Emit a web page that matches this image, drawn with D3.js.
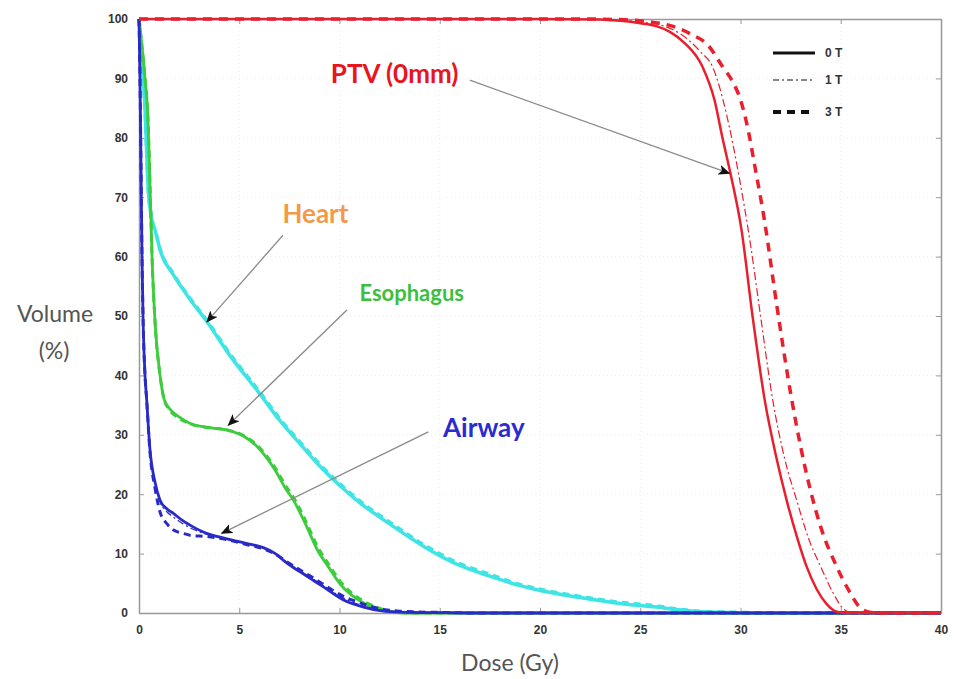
<!DOCTYPE html>
<html>
<head>
<meta charset="utf-8">
<script src="https://cdn.jsdelivr.net/npm/d3@7"></script>
<style>
	body { margin: 0; background: #fff; }
	svg { display: block; }
	.tick-label { font-family: "Liberation Sans", Arial, sans-serif; font-size: 12px; font-weight: bold; fill: #333; }
	.axis-title { font-family: Lato, "Open Sans", sans-serif; font-size: 23px; fill: #555; }
	.organ-label { font-family: Lato, "Open Sans", sans-serif; font-weight: bold; }
	.legend-label { font-family: "Liberation Sans", Arial, sans-serif; font-size: 12px; font-weight: bold; fill: #333; }
</style>
</head>
<body>
<svg id="dvh"></svg>
<script>
// Dose (Gy) / volume (%) pairs
const ptvDose0 = [ 0, 10, 20, 23, 24, 25, 25.8, 26.5, 27.2, 28.1, 28.7, 29.1, 29.5, 30.05, 30.6, 31.2, 31.8, 32.3, 32.8, 33.3, 33.8, 34.3, 34.8, 35.2, 40 ];
const ptvVol0 = [ 100, 100, 100, 99.9, 99.7, 99.3, 98.8, 97.8, 96, 92, 86.4, 80, 74, 64.5, 50, 36, 26, 19, 13, 7.8, 4, 1.5, 0.2, 0, 0 ];
const ptvDose1 = [ 0, 10, 22, 23.5, 25, 26, 27, 28, 28.6, 29.3, 29.9, 30.5, 31, 31.6, 32.2, 32.8, 33.4, 34, 34.6, 35.1, 35.5, 36, 40 ];
const ptvVol1 = [ 100, 100, 100, 99.9, 99.5, 99, 97.5, 94.5, 92, 84, 74, 62, 50, 36, 26, 19, 12.5, 7.8, 3.5, 0.8, 0.1, 0, 0 ];
const ptvDose3 = [ 0, 10, 22, 24, 25.5, 26.6, 27.5, 28.4, 29.1, 29.6, 30, 30.4, 30.7, 31.2, 31.8, 32.5, 33, 33.5, 34, 34.8, 35.4, 36, 36.5, 37, 40 ];
const ptvVol3 = [ 100, 100, 100, 99.9, 99.5, 98.8, 97.5, 95.5, 92, 89.5, 86.4, 81, 75.5, 66, 52, 37, 28, 20.5, 14.5, 7.8, 3.8, 0.8, 0.1, 0, 0 ];

const heartDose0 = [ 0, 0.1, 0.3, 0.45, 0.6, 0.8, 1.1, 1.7, 2.5, 3.4, 4.5, 6, 7, 8, 9, 10, 11, 12.5, 14.3, 16, 17.5, 19, 20, 22, 24, 25.8, 27, 28, 30, 33, 40 ];
const heartVol0 = [ 100, 95, 85, 72, 67, 64.5, 60.6, 57, 53, 49, 43.5, 37, 32.5, 28.6, 24.8, 21.5, 18.6, 15, 11, 8, 6.2, 4.6, 3.8, 2.6, 1.6, 1, 0.5, 0.2, 0.05, 0, 0 ];
const heartDose1 = [ 0, 0.1, 0.3, 0.45, 0.6, 0.8, 1.1, 1.7, 2.5, 3.4, 4.5, 6, 7, 8, 9, 10, 11, 12.5, 14.3, 16, 17.5, 19, 20, 22, 24, 25.8, 27, 28, 30, 33, 40 ];
const heartVol1 = [ 100, 95, 85, 72, 67, 64.5, 60.6, 57, 53, 49, 43.6, 37.1, 32.6, 28.7, 24.9, 21.6, 18.7, 15.1, 11.1, 8.1, 6.3, 4.7, 3.9, 2.7, 1.7, 1.1, 0.6, 0.25, 0.05, 0, 0 ];
const heartDose3 = [ 0, 0.1, 0.3, 0.45, 0.6, 0.8, 1.1, 1.7, 2.5, 3.4, 4.5, 6, 7, 8, 9, 10, 11, 12.5, 14.3, 16, 17.5, 19, 20, 22, 24, 25.8, 27, 28, 30, 33, 40 ];
const heartVol3 = [ 100, 95, 85, 72, 67, 64.5, 60.8, 57.2, 53.2, 49.2, 43.8, 37.3, 32.8, 28.9, 25.1, 21.8, 18.9, 15.3, 11.3, 8.3, 6.5, 4.8, 4, 2.8, 1.8, 1.2, 0.6, 0.3, 0.1, 0, 0 ];

const esoDose0 = [ 0, 0.1, 0.3, 0.45, 0.55, 0.65, 0.8, 1.05, 1.25, 1.5, 2, 2.5, 3.5, 4.4, 5.2, 5.9, 6.4, 6.8, 7.3, 7.7, 8.3, 8.9, 9.5, 10, 10.6, 11.2, 12, 12.5, 13.5, 40 ];
const esoVol0 = [ 100, 97, 90, 83, 72, 60, 49, 40, 36, 34.5, 33, 32, 31.2, 30.8, 29.8, 28, 26, 24, 21, 19, 15, 10.6, 7.5, 5, 3, 1.7, 0.6, 0.2, 0, 0 ];
const esoDose1 = [ 0, 0.1, 0.3, 0.45, 0.55, 0.65, 0.8, 1.05, 1.25, 1.5, 2, 2.5, 3.5, 4.4, 5.2, 5.9, 6.4, 6.8, 7.3, 7.7, 8.3, 8.9, 9.5, 10, 10.6, 11.2, 12, 12.5, 13.5, 40 ];
const esoVol1 = [ 100, 97, 90, 83, 72, 60, 49, 40, 36, 34.5, 33, 32, 31.3, 30.9, 29.9, 28.1, 26.1, 24.1, 21.1, 19.1, 15.2, 10.8, 7.7, 5.2, 3.2, 1.8, 0.7, 0.25, 0, 0 ];
const esoDose3 = [ 0, 0.1, 0.3, 0.45, 0.55, 0.65, 0.8, 1.05, 1.25, 1.5, 2, 2.5, 3.5, 4.4, 5.2, 5.9, 6.4, 6.8, 7.3, 7.7, 8.3, 8.9, 9.5, 10, 10.6, 11.2, 12, 12.5, 13.5, 40 ];
const esoVol3 = [ 100, 97, 90, 83, 72, 60, 49, 40, 36, 34.3, 32.8, 31.9, 31.2, 30.8, 29.9, 28.2, 26.3, 24.4, 21.5, 19.5, 15.6, 11.2, 8, 5.5, 3.4, 2, 0.8, 0.3, 0, 0 ];

const airDose0 = [ 0, 0.05, 0.1, 0.15, 0.2, 0.3, 0.38, 0.55, 0.8, 1.05, 1.4, 1.7, 2.2, 2.7, 3.3, 4, 5.4, 6.2, 6.8, 7.3, 8, 8.6, 9.2, 10.2, 11.2, 12.2, 13, 15, 17, 40 ];
const airVol0 = [ 100, 90, 75, 60, 50, 40, 36, 27.4, 22, 19, 17.5, 16.8, 15.5, 14.5, 13.5, 12.8, 11.7, 11, 10, 8.6, 7, 5.7, 4.4, 2.2, 1, 0.3, 0.15, 0.05, 0, 0 ];
const airDose1 = [ 0, 0.05, 0.1, 0.15, 0.2, 0.3, 0.38, 0.55, 0.8, 1.05, 1.4, 1.7, 2.2, 2.7, 3.3, 4, 5.4, 6.2, 6.8, 7.3, 8, 8.6, 9.2, 10.2, 11.2, 12.2, 13, 15, 17, 40 ];
const airVol1 = [ 100, 90, 75, 60, 50, 40, 36, 27.4, 22, 18.7, 17, 16.2, 15, 14.1, 13.3, 12.7, 11.6, 10.9, 10, 8.7, 7.2, 5.9, 4.6, 2.5, 1.2, 0.4, 0.2, 0.05, 0, 0 ];
const airDose3 = [ 0, 0.05, 0.1, 0.15, 0.2, 0.3, 0.38, 0.55, 0.8, 1.05, 1.4, 1.7, 2.2, 2.7, 3.3, 4, 5.4, 6.2, 6.8, 7.3, 8, 8.6, 9.2, 10.2, 11.2, 12.2, 13, 15, 17, 40 ];
const airVol3 = [ 100, 90, 75, 60, 50, 40, 36, 27, 21, 17, 15, 14, 13.4, 13, 12.9, 12.6, 11.5, 10.8, 9.9, 8.8, 7.3, 6.1, 4.8, 2.8, 1.5, 0.6, 0.3, 0.1, 0, 0 ];

const xTicks = [ 0, 5, 10, 15, 20, 25, 30, 35, 40 ];
const yTicks = [ 0, 10, 20, 30, 40, 50, 60, 70, 80, 90, 100 ];
const legendLabels = [ '0 T', '1 T', '3 T' ];

// Annotation text and arrow ends, in data units
const organNames = [ 'PTV (0mm)', 'Heart', 'Esophagus', 'Airway' ];
const organLabelColors = [ '#e8141e', '#f29a4a', '#3cbf3c', '#2b2bd0' ];
const organLabelSizes = [ 26, 26, 22, 26 ];
const labelDose = [ 12.75, 8.8, 13.6, 17.2 ];
const labelVol = [ 90.9, 67.3, 54.0, 31.3 ];
const arrowFromDose = [ 16.5, 7.18, 10.37, 14.43 ];
const arrowFromVol = [ 89.7, 63.6, 51.0, 30.5 ];
const arrowToDose = [ 29.45, 3.38, 4.45, 4.12 ];
const arrowToVol = [ 74, 49.0, 31.6, 13.4 ];

function pairs( doses, vols ) {
	return doses.map( ( d, i ) => [ d, vols[ i ] ] );
}

const margin = { top: 19, right: 16, bottom: 66, left: 139 };
const width = 957 - margin.left - margin.right;
const height = 679 - margin.top - margin.bottom;

const svg = d3.select( '#dvh' )
	.attr( 'width', 957 )
	.attr( 'height', 679 );

const g = svg.append( 'g' )
	.attr( 'transform', `translate(${ margin.left },${ margin.top })` );

const x = d3.scaleLinear().domain( [ 0, 40 ] ).range( [ 0, width ] );
const y = d3.scaleLinear().domain( [ 0, 100 ] ).range( [ height, 0 ] );

// Faint grid
g.append( 'g' )
	.selectAll( 'line' )
	.data( yTicks.slice( 1, -1 ) )
	.join( 'line' )
	.attr( 'x1', 0 )
	.attr( 'x2', width )
	.attr( 'y1', ( d ) => y( d ) )
	.attr( 'y2', ( d ) => y( d ) )
	.attr( 'stroke', '#ececec' )
	.attr( 'stroke-dasharray', '1,3' );
g.append( 'g' )
	.selectAll( 'line' )
	.data( xTicks.slice( 1, -1 ) )
	.join( 'line' )
	.attr( 'x1', ( d ) => x( d ) )
	.attr( 'x2', ( d ) => x( d ) )
	.attr( 'y1', 0 )
	.attr( 'y2', height )
	.attr( 'stroke', '#ececec' )
	.attr( 'stroke-dasharray', '1,3' );

// Axes, matlab style (ticks pointing in, on all four sides)
function styleAxis( sel ) {
	sel.selectAll( '.domain' ).attr( 'stroke', '#999' ).attr( 'stroke-width', 1.5 );
	sel.selectAll( '.tick line' ).attr( 'stroke', '#999' );
}

g.append( 'g' )
	.attr( 'transform', `translate(0,${ height })` )
	.call( d3.axisBottom( x ).tickValues( xTicks ).tickSizeInner( -5 ).tickSizeOuter( 0 ).tickPadding( 12 ) )
	.call( styleAxis )
	.selectAll( 'text' )
	.attr( 'class', 'tick-label' );

g.append( 'g' )
	.call( d3.axisLeft( y ).tickValues( yTicks ).tickSizeInner( -5 ).tickSizeOuter( 0 ).tickPadding( 11 ) )
	.call( styleAxis )
	.selectAll( 'text' )
	.attr( 'class', 'tick-label' );

g.append( 'g' )
	.call( d3.axisTop( x ).tickValues( xTicks ).tickSizeInner( -5 ).tickSizeOuter( 0 ).tickFormat( '' ) )
	.call( styleAxis );

g.append( 'g' )
	.attr( 'transform', `translate(${ width },0)` )
	.call( d3.axisRight( y ).tickValues( yTicks ).tickSizeInner( -5 ).tickSizeOuter( 0 ).tickFormat( '' ) )
	.call( styleAxis );

// Curves
const line = d3.line()
	.x( ( d ) => x( d[ 0 ] ) )
	.y( ( d ) => y( d[ 1 ] ) )
	.curve( d3.curveMonotoneX );

const curves = [
	{ pts: pairs( heartDose3, heartVol3 ), color: '#3fe4e4', w: 3.5, dash: '7,5' },
	{ pts: pairs( heartDose1, heartVol1 ), color: '#3fe4e4', w: 1.5, dash: '7,3,2,3' },
	{ pts: pairs( heartDose0, heartVol0 ), color: '#3fe4e4', w: 3.5, dash: null },
	{ pts: pairs( esoDose3, esoVol3 ), color: '#3ccc3c', w: 3, dash: '7,5' },
	{ pts: pairs( esoDose1, esoVol1 ), color: '#3ccc3c', w: 1.2, dash: '7,3,2,3' },
	{ pts: pairs( esoDose0, esoVol0 ), color: '#3ccc3c', w: 2.8, dash: null },
	{ pts: pairs( airDose3, airVol3 ), color: '#2a2ac8', w: 3, dash: '7,5' },
	{ pts: pairs( airDose1, airVol1 ), color: '#2a2ac8', w: 1.2, dash: '7,3,2,3' },
	{ pts: pairs( airDose0, airVol0 ), color: '#2a2ac8', w: 2.8, dash: null },
	{ pts: pairs( ptvDose0, ptvVol0 ), color: '#e8202e', w: 2.5, dash: null },
	{ pts: pairs( ptvDose1, ptvVol1 ), color: '#e8202e', w: 1.2, dash: '8,3,2,3' },
	{ pts: pairs( ptvDose3, ptvVol3 ), color: '#e8202e', w: 3.5, dash: '9,7' },
];

g.append( 'g' )
	.selectAll( 'path' )
	.data( curves )
	.join( 'path' )
	.attr( 'fill', 'none' )
	.attr( 'stroke', ( d ) => d.color )
	.attr( 'stroke-width', ( d ) => d.w )
	.attr( 'stroke-dasharray', ( d ) => d.dash )
	.attr( 'd', ( d ) => line( d.pts ) );

// Arrowhead
svg.append( 'defs' )
	.append( 'marker' )
	.attr( 'id', 'head' )
	.attr( 'viewBox', '0 0 12 10' )
	.attr( 'refX', 11 )
	.attr( 'refY', 5 )
	.attr( 'markerWidth', 12 )
	.attr( 'markerHeight', 10 )
	.attr( 'markerUnits', 'userSpaceOnUse' )
	.attr( 'orient', 'auto' )
	.append( 'path' )
	.attr( 'd', 'M0,0 L12,5 L0,10 L3,5 Z' )
	.attr( 'fill', '#111' );

g.append( 'g' )
	.selectAll( 'line' )
	.data( organNames )
	.join( 'line' )
	.attr( 'x1', ( d, i ) => x( arrowFromDose[ i ] ) )
	.attr( 'y1', ( d, i ) => y( arrowFromVol[ i ] ) )
	.attr( 'x2', ( d, i ) => x( arrowToDose[ i ] ) )
	.attr( 'y2', ( d, i ) => y( arrowToVol[ i ] ) )
	.attr( 'stroke', '#8a8a8a' )
	.attr( 'stroke-width', 1.3 )
	.attr( 'marker-end', 'url(#head)' );

g.append( 'g' )
	.selectAll( 'text' )
	.data( organNames )
	.join( 'text' )
	.attr( 'class', 'organ-label' )
	.attr( 'x', ( d, i ) => x( labelDose[ i ] ) )
	.attr( 'y', ( d, i ) => y( labelVol[ i ] ) )
	.attr( 'text-anchor', 'middle' )
	.attr( 'dominant-baseline', 'central' )
	.attr( 'font-size', ( d, i ) => organLabelSizes[ i ] )
	.attr( 'fill', ( d, i ) => organLabelColors[ i ] )
	.text( ( d ) => d );

// Legend
const legendDash = [ null, '6,3,2,3', '8,6' ];
const legendWidth = [ 3, 1, 4 ];
const legendRowY = [ 53, 80, 112 ];
const legend = svg.append( 'g' );
legend.selectAll( 'line' )
	.data( legendLabels )
	.join( 'line' )
	.attr( 'x1', 773 )
	.attr( 'x2', 815 )
	.attr( 'y1', ( d, i ) => legendRowY[ i ] )
	.attr( 'y2', ( d, i ) => legendRowY[ i ] )
	.attr( 'stroke', '#111' )
	.attr( 'stroke-width', ( d, i ) => legendWidth[ i ] )
	.attr( 'stroke-dasharray', ( d, i ) => legendDash[ i ] );
legend.selectAll( 'text' )
	.data( legendLabels )
	.join( 'text' )
	.attr( 'class', 'legend-label' )
	.attr( 'x', 825 )
	.attr( 'y', ( d, i ) => legendRowY[ i ] )
	.attr( 'dominant-baseline', 'central' )
	.text( ( d ) => d );

// Axis titles
svg.append( 'text' )
	.attr( 'class', 'axis-title' )
	.attr( 'x', 55 )
	.attr( 'y', 313 )
	.attr( 'text-anchor', 'middle' )
	.attr( 'dominant-baseline', 'central' )
	.text( 'Volume' );
svg.append( 'text' )
	.attr( 'class', 'axis-title' )
	.attr( 'x', 54 )
	.attr( 'y', 350 )
	.attr( 'text-anchor', 'middle' )
	.attr( 'dominant-baseline', 'central' )
	.text( '(%)' );
svg.append( 'text' )
	.attr( 'class', 'axis-title' )
	.attr( 'x', margin.left + width / 2 - 30 )
	.attr( 'y', 662 )
	.attr( 'text-anchor', 'middle' )
	.attr( 'dominant-baseline', 'central' )
	.text( 'Dose (Gy)' );
</script>
</body>
</html>
